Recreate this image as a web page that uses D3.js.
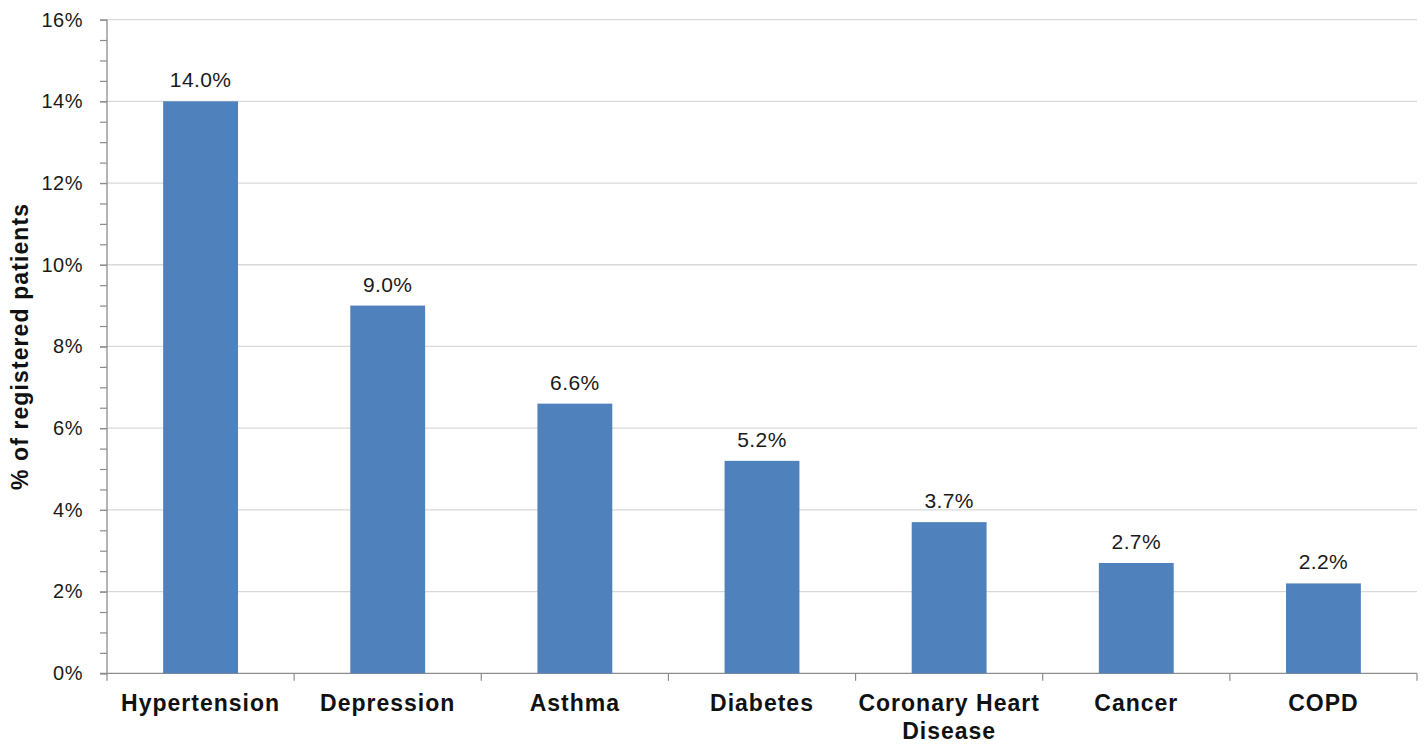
<!DOCTYPE html>
<html>
<head>
<meta charset="utf-8">
<script src="https://cdn.jsdelivr.net/npm/d3@7/dist/d3.min.js"></script>
<style>
  html, body { margin: 0; padding: 0; background: #fff; }
  svg { display: block; font-family: "Liberation Sans", Arial, sans-serif; }
</style>
</head>
<body>
<svg id="chart" width="1426" height="745"></svg>
<script>
const categories = ["Hypertension", "Depression", "Asthma", "Diabetes", "Coronary Heart Disease", "Cancer", "COPD"];
const values = [0.140, 0.090, 0.066, 0.052, 0.037, 0.027, 0.022];
const majorTicks = [0, 0.02, 0.04, 0.06, 0.08, 0.10, 0.12, 0.14, 0.16];
const minorTicks = d3.range(0, 0.1601, 0.005);
const yTitle = "% of registered patients";

(function () {
const svg = d3.select("#chart");
const pLeft = 107, pRight = 1417, pTop = 19.6, pBottom = 673.3;

const x = d3.scaleBand().domain(categories).range([pLeft, pRight]).padding(0);
const y = d3.scaleLinear().domain([0, 0.16]).range([pBottom, pTop]);
const fmtTick = d3.format(".0%");
const fmtVal = d3.format(".1%");

// gridlines
svg.append("g").selectAll("line").data(majorTicks.filter(d => d > 0)).join("line")
  .attr("x1", pLeft).attr("x2", pRight)
  .attr("y1", d => y(d)).attr("y2", d => y(d))
  .attr("stroke", "#d9d9d9").attr("stroke-width", 1.3);

// minor ticks y
const yMinor = svg.append("g").attr("transform", `translate(${pLeft},0)`)
  .call(d3.axisLeft(y).tickValues(minorTicks).tickSize(7).tickFormat(""));
yMinor.select(".domain").remove();
yMinor.selectAll("line").attr("stroke", "#8c8c8c").attr("stroke-width", 1.2);

// major y axis
const yAxis = svg.append("g").attr("transform", `translate(${pLeft},0)`)
  .call(d3.axisLeft(y).tickValues(majorTicks).tickSize(7).tickPadding(17).tickFormat(fmtTick));
yAxis.select(".domain").attr("stroke", "#8c8c8c").attr("stroke-width", 1.3).attr("d", `M0,${pTop}V${pBottom}`);
yAxis.selectAll("line").attr("stroke", "#8c8c8c").attr("stroke-width", 1.2);
yAxis.selectAll("text").attr("font-size", 20).attr("letter-spacing", 0.5).attr("fill", "#1a1a1a")
  .attr("font-family", "Liberation Sans, Arial, sans-serif");

// x axis line
svg.append("line").attr("x1", pLeft - 7).attr("x2", pRight).attr("y1", pBottom).attr("y2", pBottom)
  .attr("stroke", "#8c8c8c").attr("stroke-width", 1.3);
// x axis ticks at band boundaries
const bounds = categories.map(c => x(c)).concat([x.range()[1]]);
svg.append("g").selectAll("line").data(bounds).join("line")
  .attr("x1", d => d).attr("x2", d => d).attr("y1", pBottom).attr("y2", pBottom + 7.5)
  .attr("stroke", "#8c8c8c").attr("stroke-width", 1.2);

// bars
const bw = x.bandwidth();
svg.append("g").selectAll("rect").data(categories).join("rect")
  .attr("x", c => x(c) + bw * 0.3)
  .attr("width", bw * 0.4)
  .attr("y", (c, i) => y(values[i]))
  .attr("height", (c, i) => y(0) - y(values[i]))
  .attr("fill", "#4f81bd");

// value labels
svg.append("g").selectAll("text").data(categories).join("text")
  .attr("x", c => x(c) + bw / 2)
  .attr("y", (c, i) => y(values[i]) - 14)
  .attr("text-anchor", "middle")
  .attr("font-size", 21)
  .attr("letter-spacing", 0.4)
  .attr("fill", "#1a1a1a")
  .text((c, i) => fmtVal(values[i]));

// category labels with wrapping
const catG = svg.append("g");
categories.forEach(c => {
  const t = catG.append("text")
    .attr("x", x(c) + bw / 2)
    .attr("y", 711)
    .attr("text-anchor", "middle")
    .attr("font-size", 23)
    .attr("font-weight", "bold")
    .attr("letter-spacing", 1)
    .attr("fill", "#111");
  const words = c.split(" ");
  let lines = [], cur = [];
  const probe = t.append("tspan");
  words.forEach(w => {
    const test = cur.concat([w]).join(" ");
    probe.text(test);
    if (probe.node().getComputedTextLength() > 200 && cur.length) {
      lines.push(cur.join(" "));
      cur = [w];
    } else cur.push(w);
  });
  lines.push(cur.join(" "));
  probe.remove();
  lines.forEach((ln, i) => {
    t.append("tspan").attr("x", x(c) + bw / 2).attr("dy", i === 0 ? 0 : 28).text(ln);
  });
});

// y title
svg.append("text")
  .attr("transform", `translate(28,${(pTop + pBottom) / 2}) rotate(-90)`)
  .attr("text-anchor", "middle")
  .attr("font-size", 23)
  .attr("font-weight", "bold")
  .attr("letter-spacing", 1.1)
  .attr("fill", "#111")
  .text(yTitle);
})();
</script>
</body>
</html>
